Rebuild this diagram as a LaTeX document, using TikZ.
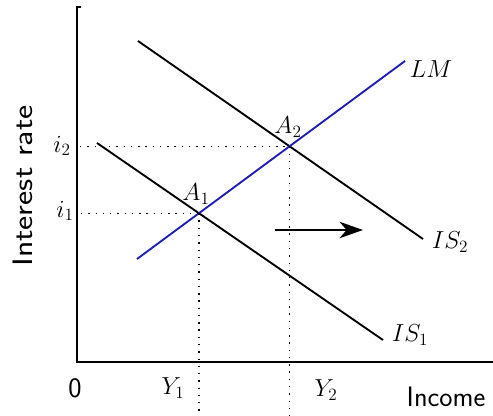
\RequirePackage{fix-cm}
\documentclass[tikz,border=0pt]{standalone}
\usepackage{tikz}
\usetikzlibrary{arrows.meta,intersections}
\definecolor{lmBlue}{HTML}{1E1EB4}
\tikzset{
 curve/.style={line width=1.6pt},
 guide/.style={line width=1pt, dash pattern=on 1.2pt off 5pt},
 lbl/.style={font=\fontsize{21}{24}\selectfont, inner sep=0pt},
 axlbl/.style={font=\sffamily\fontsize{24}{28}\selectfont, inner sep=0pt},
}

\begin{document}
\begin{tikzpicture}[x=0.03cm, y=-0.03cm]
\useasboundingbox (0,0) rectangle (493,416);
% axes
\draw[line width=1.1pt] (81,7) -- (77,7) -- (77,362) -- (493,362);
% curves
\draw[curve, name path=is1] (97,143) -- (383,340);
\draw[curve, name path=is2] (138,41) -- (423,239);
\draw[curve, lmBlue, name path=lm] (137,259) -- (405,61);
\path[name intersections={of=is1 and lm, by=a1}];
\path[name intersections={of=is2 and lm, by=a2}];
% guides
\draw[guide] (81,0 |- a1) -- (a1);
\draw[guide] (80,0 |- a2) -- (a2);
\draw[guide] (a1) -- (a1 |- 0,416);
\draw[guide] (a2) -- (a2 |- 0,416);
% shift
\draw[-{Stealth[length=20pt,width=14pt,inset=6pt]}, line width=2.2pt] (275,230) -- (363,230);
% labels
\node[lbl] (lLM) at (431,69) {$LM$};
\node[lbl] (lIS2) at (450,242) {$IS_2$};
\node[lbl] (lIS1) at (410,335) {$IS_1$};
\node[lbl] (lA1) at (196,194) {$A_1$};
\node[lbl] (lA2) at (288,127) {$A_2$};
\node[lbl] (li2) at (62,146) {$i_2$};
\node[lbl] (li1) at (65,211) {$i_1$};
\node[lbl] (lY1) at (173,388) {$Y_1$};
\node[lbl] (lY2) at (326,390) {$Y_2$};
\node[axlbl] (lO) at (75,388) {0};
\node[axlbl] (lInc) at (446,397) {Income};
\node[axlbl, rotate=90] (lRate) at (23,186) {\scalebox{1.2}[1]{Interest rate}};
\end{tikzpicture}
\end{document}
